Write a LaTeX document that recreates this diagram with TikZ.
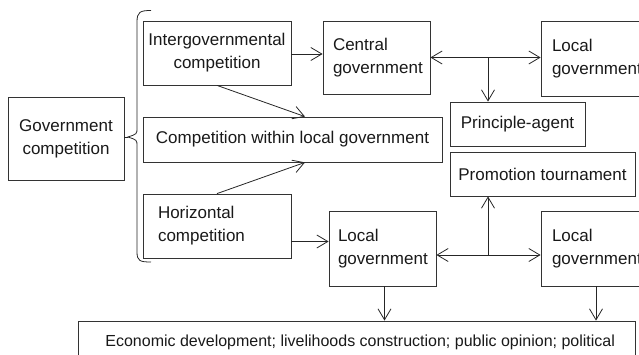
\documentclass[tikz,border=0pt]{standalone}
\usepackage{fontspec}
\setmainfont{Liberation Sans}
\usetikzlibrary{arrows.meta}
\begin{document}
\begin{tikzpicture}[x=1pt,y=-1pt,
  font=\fontsize{17}{23}\selectfont,
  line width=0.8pt,
  color=black!85,
  >={Straight Barb[length=11pt,width=13pt,line width=0.8pt]},
  box/.style={draw=black!80,rectangle,inner sep=0pt,text=black!90,align=center},
  lbox/.style={box,align=left},
  link/.style={draw,->},
  both/.style={draw,<->}]
\useasboundingbox (0,0) rectangle (639,355);
\clip (0,0) rectangle (639,355);

% left column
\node[box,minimum width=116pt,minimum height=83pt] (gc) at (66,138.5) {Government\\competition};

% three forms of competition
\node[box,minimum width=148pt,minimum height=64pt] (ig) at (217,53) {Intergovernmental\\competition};
\node[box,minimum width=299pt,minimum height=45pt] (cw) at (292.5,139.5) {Competition within local government};
\node[lbox,minimum width=148pt,minimum height=64pt,text width=118pt] (hz) at (217,226) {Horizontal\\competition};

% upper tier
\node[lbox,minimum width=107pt,minimum height=73pt,text width=87pt] (cg) at (376.5,57.5) {Central\\government};
\node[lbox,minimum width=107pt,minimum height=75pt,text width=85pt] (lt) at (594.5,58.5) {Local\\government};
\node[box,minimum width=135pt,minimum height=44pt] (pa) at (517.5,124) {Principle-agent};
\node[box,minimum width=185pt,minimum height=44pt] (pt) at (542.5,174) {Promotion tournament};

% lower tier
\node[lbox,minimum width=107pt,minimum height=75pt,text width=89pt] (lm) at (382.5,248.5) {Local\\government};
\node[lbox,minimum width=107pt,minimum height=75pt,text width=85pt] (lr) at (594.5,248.5) {Local\\government};

% outcomes
\node[box,minimum width=557pt,minimum height=80pt] (eb) at (356.5,361) {};
\node[anchor=base west,inner sep=0pt,text=black!90,font=\fontsize{16}{22}\selectfont] (ebt) at (105,346) {Economic development; livelihoods construction; public opinion; political};

% brace grouping the forms of competition
\coordinate (cusp) at (128,137);
\draw (151,10.5) .. controls (140,10.5) and (137,12) .. (137,22) -- (137,128)
  .. controls (137,134) .. (cusp) .. controls (137,140) .. (137,146) -- (137,252)
  .. controls (137,261) and (140,262) .. (151,262);
\draw (cusp -| gc.east) -- (cusp);

% connectors
\draw[link] ([yshift=-1pt]ig.east) -- ([yshift=-1pt]ig.east -| cg.west);
\draw[link] (ig.south) -- ([xshift=12.5pt]cw.north);
\draw[link] (hz.north) -- ([xshift=12.5pt]cw.south);
\draw[link] ([yshift=-15.5pt]hz.east) -- ([yshift=-15.5pt]hz.east -| lm.west);

\coordinate (j1) at (488,57.5);
\draw[both] (cg.east) -- (cg.east -| lt.west);
\draw[link] (j1) -- (j1 |- pa.north);

\coordinate (j2) at (488,255);
\draw[both] (j2 -| lm.east) -- (j2 -| lr.west);
\draw[link] (j2) -- (j2 |- pt.south);

\draw[link] ([xshift=2pt]lm.south) -- ([xshift=2pt]lm.south |- eb.north);
\draw[link] ([xshift=1.5pt]lr.south) -- ([xshift=1.5pt]lr.south |- eb.north);
\end{tikzpicture}
\end{document}
